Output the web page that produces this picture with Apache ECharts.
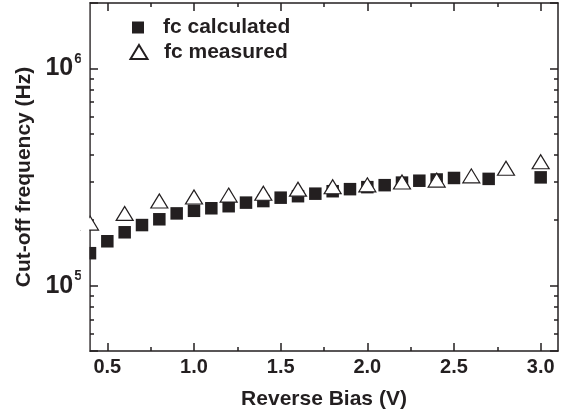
<!DOCTYPE html>
<html>
<head>
<meta charset="utf-8">
<script src="https://cdn.jsdelivr.net/npm/echarts@6/dist/echarts.min.js"></script>
<style>html,body{margin:0;padding:0;background:#fff;}#c{width:572px;height:420px;}</style>
</head>
<body>
<div id="c"></div>
<script>
// ---- data ----
const biasCalc = [0.4,0.5,0.6,0.7,0.8,0.9,1.0,1.1,1.2,1.3,1.4,1.5,1.6,1.7,1.8,1.9,2.0,2.1,2.2,2.3,2.4,2.5,2.7,3.0];
const fcCalc = [1.41e5,1.60e5,1.76e5,1.90e5,2.02e5,2.15e5,2.21e5,2.27e5,2.32e5,2.41e5,2.45e5,2.54e5,2.58e5,2.65e5,2.72e5,2.78e5,2.84e5,2.90e5,2.98e5,3.04e5,3.08e5,3.13e5,3.10e5,3.15e5];
const biasMeas = [0.4,0.6,0.8,1.0,1.2,1.4,1.6,1.8,2.0,2.2,2.4,2.6,2.8,3.0];
const fcMeas = [1.94e5,2.15e5,2.45e5,2.56e5,2.61e5,2.66e5,2.78e5,2.85e5,2.91e5,3.00e5,3.06e5,3.20e5,3.47e5,3.72e5];
const xMajorTicks = [0.5,1.0,1.5,2.0,2.5,3.0];
const xMinorTicks = [0.75,1.25,1.75,2.25,2.75];
const yLabelTicks = [1e5,1e6];
const seriesNames = ['fc calculated','fc measured'];

const INK = '#231f20';
const FONT = 'Liberation Sans, Arial, Helvetica, sans-serif';
const GRID = {left: 90, right: 14, top: 3, bottom: 69};
const W = 572, H = 420;

const chart = echarts.init(document.getElementById('c'), null, {renderer:'canvas'});

function xAxisDef(pos, ticks, len, withLabel, showLine) {
  const a = {
    type: 'value', position: pos, min: 0.4, max: 3.1,
    axisLine: {show: showLine, onZero: false, lineStyle: {color: INK, width: 1.5}},
    axisTick: {show: true, inside: true, length: len, customValues: ticks, lineStyle: {color: INK, width: 1.5}},
    splitLine: {show: false},
    axisLabel: {show: false}
  };
  if (withLabel) {
    a.axisLabel = {show: true, customValues: ticks, margin: 6,
      formatter: v => v.toFixed(1),
      color: INK, fontFamily: FONT, fontWeight: 'bold', fontSize: 20};
    a.name = 'Reverse Bias (V)';
    a.nameLocation = 'middle';
    a.nameGap = 38;
    a.nameTextStyle = {color: INK, fontFamily: FONT, fontWeight: 'bold', fontSize: 21};
  }
  return a;
}

function yAxisDef(pos, withLabel) {
  const a = {
    type: 'log', logBase: 10, position: pos, min: 5e4, max: 2e6,
    axisLine: {show: true, onZero: false, lineStyle: {color: INK, width: 1.5}},
    axisTick: {show: true, inside: true, length: 8, lineStyle: {color: INK, width: 1.5}},
    minorTick: {show: true, splitNumber: 9, length: 4, lineStyle: {color: INK, width: 1.5}},
    splitLine: {show: false},
    minorSplitLine: {show: false},
    axisLabel: {show: false}
  };
  if (withLabel) {
    a.axisLabel = {
      show: true, margin: 8, showMinLabel: false, showMaxLabel: false,
      formatter: v => yLabelTicks.indexOf(v) >= 0 ? '{b|10}{s|' + Math.round(Math.log10(v)) + '}' : '',
      rich: {
        b: {fontSize: 25, fontWeight: 'bold', fontFamily: FONT, color: INK},
        s: {fontSize: 14, fontWeight: 'bold', fontFamily: FONT, color: INK, padding: [0,0,19,1]}
      }
    };
    a.name = 'Cut-off frequency (Hz)';
    a.nameLocation = 'middle';
    a.nameGap = 50;
    a.nameTextStyle = {color: INK, fontFamily: FONT, fontWeight: 'bold', fontSize: 21};
  }
  return a;
}

const legendText = {color: INK, fontFamily: FONT, fontWeight: 'bold', fontSize: 21, lineHeight: 22};

chart.setOption({
  animation: false,
  backgroundColor: '#fff',
  grid: GRID,
  legend: [
    {data: [seriesNames[0]], orient: 'vertical', left: 132, top: 16.5, padding: 0,
     itemWidth: 12, itemHeight: 12, textStyle: Object.assign({padding: [0,0,0,14]}, legendText)},
    {data: [seriesNames[1]], orient: 'vertical', left: 129.5, top: 41, padding: 0,
     itemWidth: 17, itemHeight: 14, textStyle: Object.assign({padding: [0,0,0,11.5]}, legendText)}
  ],
  // white strip just left of the plot frame, so markers are clipped at the axis like the original
  graphic: [{
    type: 'rect', z: 100, silent: true,
    shape: {x: GRID.left - 9.2, y: GRID.top, width: 8.4, height: H - GRID.top - GRID.bottom},
    style: {fill: '#fff'}
  }],
  xAxis: [
    xAxisDef('bottom', xMajorTicks, 8, true, true),
    xAxisDef('bottom', xMinorTicks, 4, false, false),
    xAxisDef('top', xMajorTicks, 8, false, true),
    xAxisDef('top', xMinorTicks, 4, false, false)
  ],
  yAxis: [yAxisDef('left', true), yAxisDef('right', false)],
  series: [
    {name: seriesNames[0], type: 'scatter', xAxisIndex: 0, yAxisIndex: 0,
     symbol: 'rect', symbolSize: 12.5,
     itemStyle: {color: INK, opacity: 1},
     emphasis: {disabled: true},
     data: biasCalc.map((x, i) => [x, fcCalc[i]])},
    {name: seriesNames[1], type: 'scatter', xAxisIndex: 0, yAxisIndex: 0,
     symbol: 'triangle', symbolSize: [17, 14],
     itemStyle: {color: '#fff', borderColor: INK, borderWidth: 1.2, opacity: 1},
     emphasis: {disabled: true},
     data: biasMeas.map((x, i) => [x, fcMeas[i]])}
  ]
});
</script>
</body>
</html>
